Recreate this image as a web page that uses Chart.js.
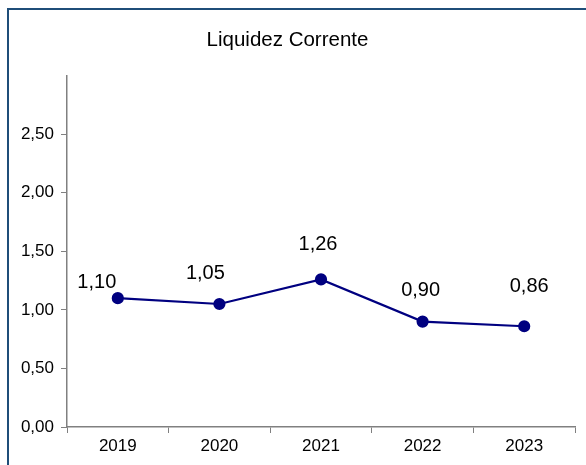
<!DOCTYPE html>
<html>
<head>
<meta charset="utf-8">
<script src="https://cdn.jsdelivr.net/npm/chart.js@4"></script>
<style>
  html, body { margin: 0; padding: 0; background: #fff; overflow: hidden; }
  #wrap { position: relative; width: 586px; height: 465px; }
  #frame { position: absolute; left: 7px; top: 8px; width: 620px; height: 520px; border: 2px solid #1f4e79; box-sizing: border-box; }
  canvas { position: absolute; left: 0; top: 0; }
</style>
</head>
<body>
<div id="wrap">
  <div id="frame"></div>
  <canvas id="myChart" width="586" height="465"></canvas>
</div>
<script>
// dados
const anos = ['2019', '2020', '2021', '2022', '2023'];
const liquidez = [1.10, 1.05, 1.26, 0.90, 0.86];
const titulo = 'Liquidez Corrente';

const fmt = (v) => v.toFixed(2).replace('.', ',');
const fonte = '"Liberation Sans", Arial, sans-serif';

// rótulos de dados (deslocamento de cada rótulo em relação ao ponto)
const rotulos = {
  id: 'rotulos',
  afterDatasetsDraw(chart, args, opts) {
    const ctx = chart.ctx;
    const meta = chart.getDatasetMeta(0);
    ctx.save();
    ctx.font = '20px ' + fonte;
    ctx.fillStyle = '#000';
    ctx.textAlign = 'center';
    ctx.textBaseline = 'middle';
    meta.data.forEach((pt, i) => {
      const d = opts.desloc[i] || [0, -30];
      ctx.fillText(fmt(liquidez[i]), pt.x + d[0], pt.y + d[1]);
    });
    ctx.restore();
  },
};

const config = {
  type: 'line',
  data: {
    labels: anos,
    datasets: [
      {
        data: liquidez,
        borderColor: '#000080',
        backgroundColor: '#000080',
        borderWidth: 2.2,
        pointRadius: 5,
        pointHoverRadius: 5,
        tension: 0,
      },
    ],
  },
  options: {
    responsive: false,
    animation: false,
    layout: { padding: { top: 0, right: 11, bottom: 0, left: 0 } },
    plugins: {
      legend: { display: false },
      tooltip: { enabled: false },
      title: {
        display: true,
        text: titulo,
        color: '#000',
        font: { family: fonte, size: 20.5, weight: 'normal' },
        padding: { top: 28, bottom: 23 },
      },
      rotulos: {
        desloc: [[-21, -16], [-14, -31], [-3, -35], [-2, -31], [5, -40]],
      },
    },
    scales: {
      x: {
        offset: true,
        grid: {
          offset: true,
          drawOnChartArea: false,
          drawTicks: true,
          tickLength: 6,
          color: '#808080',
        },
        border: { color: '#808080', width: 1.5 },
        ticks: {
          color: '#000',
          padding: 3,
          font: { family: fonte, size: 17 },
        },
        afterFit(axis) { axis.height = 38; },
      },
      y: {
        min: 0,
        max: 3,
        ticks: {
          stepSize: 0.5,
          color: '#000',
          padding: 7,
          font: { family: fonte, size: 17 },
          callback: (v) => (v >= 3 ? '' : fmt(v)),
        },
        grid: {
          drawOnChartArea: false,
          drawTicks: true,
          tickLength: 6,
          color: (c) => (c.tick && c.tick.value >= 3 ? 'rgba(0,0,0,0)' : '#808080'),
        },
        border: { color: '#808080', width: 1.5 },
        afterFit(axis) { axis.width = 67; },
      },
    },
  },
  plugins: [rotulos],
};

const myChart = new Chart(document.getElementById('myChart'), config);
</script>
</body>
</html>
